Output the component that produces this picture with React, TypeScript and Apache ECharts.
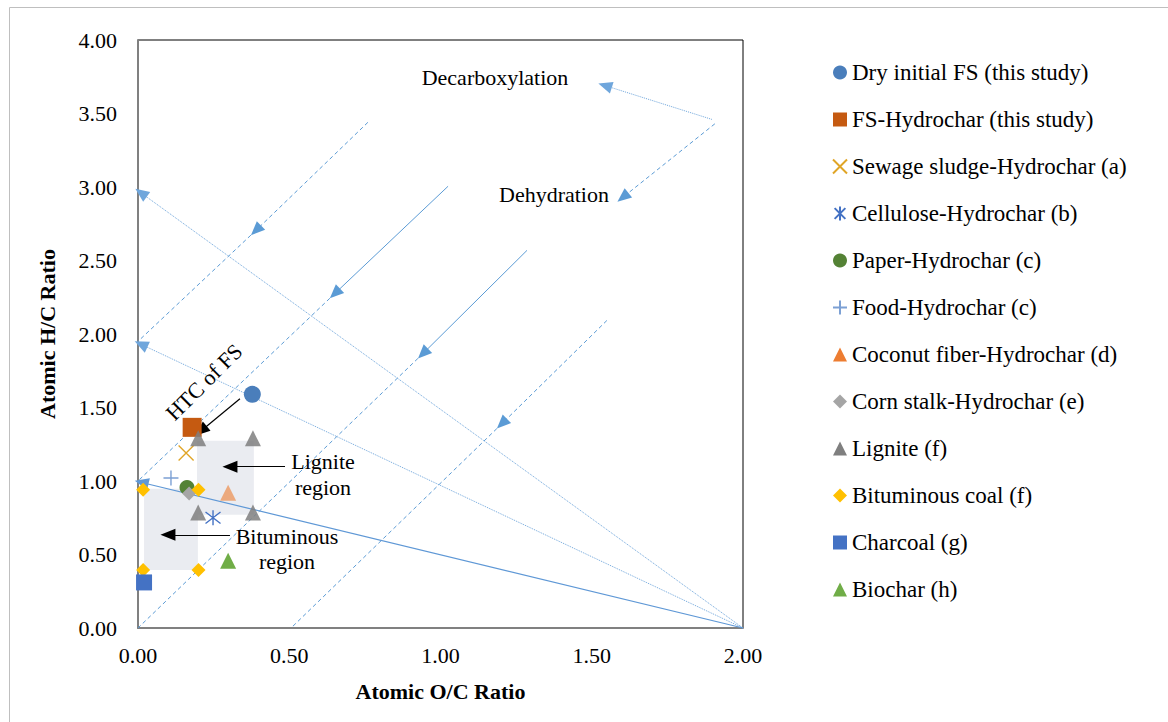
import React, { useEffect, useRef } from "react";
import * as echarts from "echarts";

const FONT = '"Liberation Serif", "Times New Roman", serif';

// ---- axis ----
const xMin = 0, xMax = 2, xStep = 0.5;
const yMin = 0, yMax = 4, yStep = 0.5;
const xName = "Atomic O/C Ratio";
const yName = "Atomic H/C Ratio";

// ---- series values [O/C, H/C] ----
const dryFS = [[0.378, 1.59]];
const fsHydrochar = [[0.179, 1.365]];
const sewageSludge = [[0.159, 1.19]];
const cellulose = [[0.248, 0.75]];
const paper = [[0.162, 0.955]];
const food = [[0.109, 1.02]];
const coconut = [[0.298, 0.92]];
const cornStalk = [[0.169, 0.915]];
const lignite = [[0.199, 1.29], [0.38, 1.29], [0.199, 0.785], [0.38, 0.785]];
const bituminous = [[0.017, 0.94], [0.2, 0.94], [0.017, 0.395], [0.2, 0.395]];
const charcoal = [[0.02, 0.31]];
const biochar = [[0.298, 0.457]];

const seriesNames = [
  "Dry initial FS (this study)",
  "FS-Hydrochar (this study)",
  "Sewage sludge-Hydrochar (a)",
  "Cellulose-Hydrochar (b)",
  "Paper-Hydrochar (c)",
  "Food-Hydrochar (c)",
  "Coconut fiber-Hydrochar (d)",
  "Corn stalk-Hydrochar (e)",
  "Lignite (f)",
  "Bituminous coal (f)",
  "Charcoal (g)",
  "Biochar (h)",
];

// ---- regions [[x1,y1],[x2,y2]] ----
const ligniteRegion = [[0.195, 0.77], [0.383, 1.274]];
const bituminousRegion = [[0.02, 0.395], [0.198, 0.947]];

// ---- guide lines: [from, arrowTip, to] ----
const dehydrationLines = [
  { start: [0.76, 3.44], tip: [0.39, 2.705], end: [0.0, 1.95], upper: "dashed" },
  { start: [1.025, 3.005], tip: [0.651, 2.276], end: [0.0, 1.0], upper: "solid" },
  { start: [1.286, 2.569], tip: [0.942, 1.867], end: [0.0, 0.0], upper: "solid" },
  { start: [1.55, 2.092], tip: [1.203, 1.39], end: [0.506, 0.0], upper: "dashed" },
];
const decarboxylationLines = [
  { start: [2.0, 0.0], tip: [0.01, 2.96], style: "dotted" },
  { start: [2.0, 0.0], tip: [0.01, 1.93], style: "dotted" },
  { start: [2.0, 0.0], tip: [0.012, 0.99], style: "solid" },
];
const keyArrows = [
  { start: [1.897, 3.46], tip: [1.544, 3.69], style: "dotted" },
  { start: [1.907, 3.43], tip: [1.603, 2.93], style: "dashed" },
];
const blackArrows = [
  { start: [0.337, 1.56], tip: [0.208, 1.34] },
  { start: [0.486, 1.097], tip: [0.304, 1.097] },
  { start: [0.304, 0.634], tip: [0.099, 0.634] },
];

const BLUE = "#5b9bd5";
const DASH = [4, 3];

function seg(a: number[], b: number[], lineStyle: any, arrow: boolean, color: string, size = [12, 14]) {
  return [
    { coord: a, symbol: "none", lineStyle },
    {
      coord: b,
      symbol: arrow ? "triangle" : "none",
      symbolSize: size,
      itemStyle: { color },
    },
  ];
}

export default function App() {
  const ref = useRef<HTMLDivElement>(null);

  useEffect(() => {
    if (!ref.current) return;
    const chart = echarts.init(ref.current, undefined, { renderer: "svg" });

    const guideData: any[] = [];
    dehydrationLines.forEach((l) => {
      guideData.push(
        seg(l.start, l.tip, { color: BLUE, width: 1, type: l.upper === "dashed" ? DASH : "solid" }, true, BLUE)
      );
      guideData.push(seg(l.tip, l.end, { color: BLUE, width: 1, type: DASH }, false, BLUE));
    });
    decarboxylationLines.forEach((l) => {
      guideData.push(
        seg(
          l.start,
          l.tip,
          l.style === "dotted"
            ? { color: "#6fa6dc", width: 1, type: [1, 1] }
            : { color: "#5f98d6", width: 1.2, type: "solid" },
          true,
          BLUE
        )
      );
    });
    keyArrows.forEach((l) => {
      guideData.push(
        seg(
          l.start,
          l.tip,
          l.style === "dotted"
            ? { color: "#6fa6dc", width: 1, type: [1, 1] }
            : { color: BLUE, width: 1, type: DASH },
          true,
          BLUE
        )
      );
    });
    const blackData = blackArrows.map((l) =>
      seg(l.start, l.tip, { color: "#000", width: 1.2, type: "solid" }, true, "#000", [12, 15])
    );

    const mk = (
      name: string,
      data: number[][],
      symbol: string,
      size: number,
      color: string,
      extra: any = {}
    ) => ({
      type: "scatter",
      name,
      data,
      symbol,
      symbolSize: size,
      z: 5,
      itemStyle: { color, opacity: 1, ...extra },
    });

    const crossPath = "path://M0,0L10,10M10,0L0,10";
    const starPath = "path://M0,0L10,10M10,0L0,10M5,-1.5L5,11.5";
    const plusPath = "path://M5,0L5,10M0,5L10,5";

    const series: any[] = [
      {
        type: "scatter",
        name: "regions",
        data: [],
        z: 1,
        silent: true,
        markArea: {
          silent: true,
          itemStyle: { color: "#eaecf1" },
          data: [
            [{ coord: ligniteRegion[0] }, { coord: ligniteRegion[1] }],
            [{ coord: bituminousRegion[0] }, { coord: bituminousRegion[1] }],
          ],
        },
      },
      {
        type: "scatter",
        name: "guides",
        data: [],
        z: 2,
        silent: true,
        markLine: {
          silent: true,
          animation: false,
          symbol: ["none", "none"],
          label: { show: false },
          emphasis: { disabled: true },
          data: guideData,
        },
      },
      mk(seriesNames[0], dryFS, "circle", 17, "#4a7ebb"),
      mk(seriesNames[1], fsHydrochar, "rect", 19, "#c55a11"),
      mk(seriesNames[2], sewageSludge, crossPath, 15, "#e0a526", { borderColor: "#e0a526", borderWidth: 1.4 }),
      mk(seriesNames[3], cellulose, starPath, 15, "#4472c4", { borderColor: "#4472c4", borderWidth: 1.4 }),
      mk(seriesNames[4], paper, "circle", 15, "#548235"),
      mk(seriesNames[5], food, plusPath, 15, "#7ca0d4", { borderColor: "#7ca0d4", borderWidth: 1.4 }),
      mk(seriesNames[6], coconut, "triangle", 16, "#ed7d31", { opacity: 0.6 }),
      mk(seriesNames[7], cornStalk, "diamond", 14, "#a5a5a5"),
      mk(seriesNames[8], lignite, "triangle", 16, "#7f7f7f", { opacity: 0.85 }),
      mk(seriesNames[9], bituminous, "diamond", 14, "#ffc000"),
      mk(seriesNames[10], charcoal, "rect", 16, "#4472c4"),
      mk(seriesNames[11], biochar, "triangle", 16, "#70ad47"),
      {
        type: "scatter",
        name: "annotations",
        data: [],
        z: 6,
        silent: true,
        markLine: {
          silent: true,
          animation: false,
          symbol: ["none", "none"],
          label: { show: false },
          emphasis: { disabled: true },
          data: blackData,
        },
      },
    ];

    const txt = (text: string, x: number, y: number, rotation = 0) => ({
      type: "text",
      x,
      y,
      rotation,
      z: 100,
      style: {
        text,
        fill: "#000",
        font: `22px ${FONT}`,
        align: "center",
        verticalAlign: "middle",
      },
    });

    chart.setOption({
      animation: false,
      backgroundColor: "#fff",
      textStyle: { fontFamily: FONT },
      grid: {
        left: 138,
        top: 40,
        width: 605,
        height: 588,
        show: true,
        borderColor: "#000",
        borderWidth: 1,
        backgroundColor: "transparent",
      },
      xAxis: {
        type: "value",
        min: xMin,
        max: xMax,
        interval: xStep,
        name: xName,
        nameLocation: "middle",
        nameGap: 52,
        nameTextStyle: { color: "#000", fontSize: 22, fontWeight: "bold", fontFamily: FONT },
        axisLine: { show: true, onZero: false, lineStyle: { color: "#808080", width: 2 } },
        axisTick: { show: false },
        splitLine: { show: false },
        axisLabel: {
          color: "#000",
          fontSize: 22,
          fontFamily: FONT,
          margin: 16,
          formatter: (v: number) => v.toFixed(2),
        },
      },
      yAxis: {
        type: "value",
        min: yMin,
        max: yMax,
        interval: yStep,
        name: yName,
        nameLocation: "middle",
        nameGap: 80,
        nameTextStyle: { color: "#000", fontSize: 22, fontWeight: "bold", fontFamily: FONT },
        axisLine: { show: true, onZero: false, lineStyle: { color: "#808080", width: 2 } },
        axisTick: { show: false },
        splitLine: { show: false },
        axisLabel: {
          color: "#000",
          fontSize: 22,
          fontFamily: FONT,
          margin: 21,
          formatter: (v: number) => v.toFixed(2),
        },
      },
      legend: {
        orient: "vertical",
        left: 827,
        top: 56,
        itemWidth: 14,
        itemHeight: 14,
        itemGap: 24,
        selectedMode: false,
        textStyle: { color: "#000", fontSize: 23, fontFamily: FONT, lineHeight: 23 },
        data: seriesNames.map((n, i) =>
          i === 6 || i === 8 ? { name: n, itemStyle: { opacity: 1 } } : { name: n }
        ),
      },
      graphic: [
        {
          type: "rect",
          silent: true,
          z: -10,
          shape: { x: 9.5, y: 7.5, width: 1300, height: 900 },
          style: { fill: "none", stroke: "#bfbfbf", lineWidth: 1 },
        },
        txt("Decarboxylation", 495, 77),
        txt("Dehydration", 554, 194),
        txt("HTC of FS", 204, 382, Math.PI / 4),
        txt("Lignite", 323, 461),
        txt("region", 323, 487),
        txt("Bituminous", 287, 536),
        txt("region", 287, 561),
      ],
      series,
    });

    return () => chart.dispose();
  }, []);

  return (
    <div
      ref={ref}
      style={{ position: "fixed", left: 0, top: 0, width: 1168, height: 722, background: "#fff" }}
    />
  );
}
